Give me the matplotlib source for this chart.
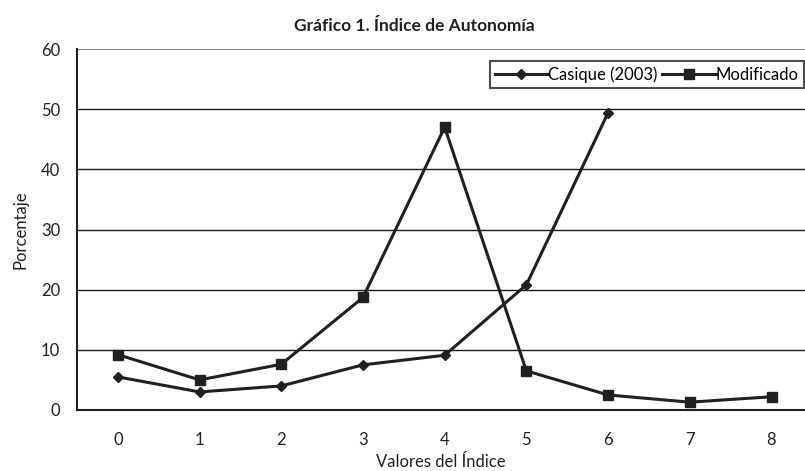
import matplotlib
matplotlib.use("Agg")
import matplotlib.pyplot as plt

plt.rcParams['font.family'] = ['Lato', 'DejaVu Sans']

categories = ['0', '1', '2', '3', '4', '5', '6', '7', '8']
casique_x = [0, 1, 2, 3, 4, 5, 6]
casique = [5.5, 3.0, 4.0, 7.5, 9.1, 20.8, 49.4]
modificado_x = [0, 1, 2, 3, 4, 5, 6, 7, 8]
modificado = [9.2, 5.0, 7.6, 18.7, 47.0, 6.5, 2.5, 1.3, 2.2]
yticks = [0, 10, 20, 30, 40, 50, 60]

fig = plt.figure(figsize=(8.05, 4.71), dpi=100)
ax = fig.add_axes([77/805, 61/471, 1 - 77/805, 361/471])

for y in yticks[1:-1]:
    ax.axhline(y, color='#1a1a1a', lw=1.0, zorder=1)
ax.axhline(60, color='#888888', lw=1.5, zorder=1)

ax.plot(casique_x, casique, color='#231f20', lw=2.2, marker='D', ms=5.5,
        label='Casique (2003)', zorder=3)
ax.plot(modificado_x, modificado, color='#231f20', lw=2.2, marker='s', ms=6.5,
        label='Modificado', zorder=3)

ax.set_xlim(-0.5, 8.41)
ax.set_ylim(0, 60)
ax.set_xticks(range(len(categories)))
ax.set_xticklabels(categories)
ax.set_yticks(yticks)
ax.tick_params(length=0, labelsize=12, colors='#231f20')
ax.tick_params(axis='x', pad=16)
ax.tick_params(axis='y', pad=12)

for s in ['top', 'right']:
    ax.spines[s].set_visible(False)
ax.spines['left'].set_color('#231f20')
ax.spines['left'].set_linewidth(1.5)
ax.spines['bottom'].set_color('#231f20')
ax.spines['bottom'].set_linewidth(1.5)

ax.set_xlabel('Valores del Índice', fontsize=12, color='#231f20', labelpad=4)
ax.set_ylabel('Porcentaje', fontsize=12, color='#231f20', labelpad=9)
fig.text(414/805, 1 - 26/471, 'Gráfico 1. Índice de Autonomía', ha='center', va='center',
         fontsize=12.5, fontweight='bold', color='#231f20')

leg = ax.legend(loc='upper right', bbox_to_anchor=(0.998, 0.966), ncol=2, frameon=True,
                fancybox=False, edgecolor='#231f20', fontsize=12, handlelength=3.2,
                handletextpad=0.0, columnspacing=0.3, borderpad=0.3, borderaxespad=0)
leg.get_frame().set_linewidth(1.5)

fig.savefig('out.png', dpi=100)
